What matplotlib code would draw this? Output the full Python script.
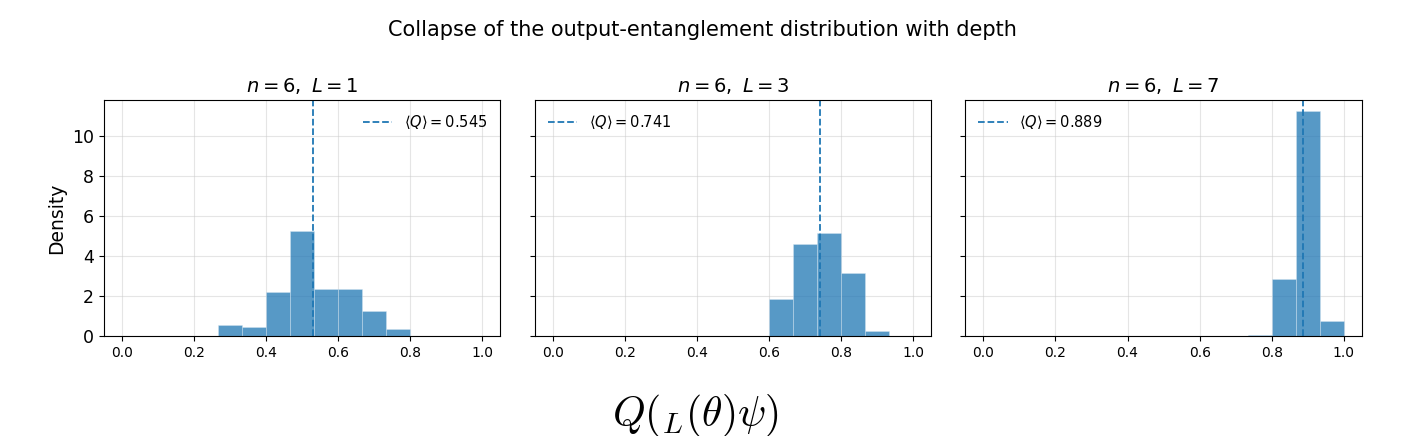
import matplotlib
matplotlib.use('Agg')
import matplotlib.pyplot as plt
import numpy as np

plt.rcParams['mathtext.fontset'] = 'dejavusans'

# ── data (density per bin, 15 bins over [0, 1]) ──
bin_edges = np.linspace(0, 1, 16)
depths = [1, 3, 7]
density_L1 = [0, 0, 0, 0, 0.58, 0.47, 2.22, 5.23, 2.37, 2.37, 1.25, 0.35, 0, 0, 0]
density_L3 = [0, 0, 0, 0, 0, 0, 0, 0, 0, 1.85, 4.60, 5.13, 3.13, 0.25, 0]
density_L7 = [0, 0, 0, 0, 0, 0, 0, 0, 0, 0, 0, 0.08, 2.87, 11.25, 0.75]
mean_line = [0.530, 0.743, 0.888]
mean_label = ['0.545', '0.741', '0.889']
legend_loc = ['upper right', 'upper left', 'upper left']

fig, axes = plt.subplots(1, 3, figsize=(14.04, 4.36), dpi=100, sharey=True)
fig.subplots_adjust(left=0.074, right=0.970, top=0.771, bottom=0.229, wspace=0.086)

for ax, L, dens, m, lab, loc in zip(axes, depths, [density_L1, density_L3, density_L7],
                                    mean_line, mean_label, legend_loc):
    centers = (bin_edges[:-1] + bin_edges[1:]) / 2
    ax.hist(centers, bins=bin_edges, weights=dens, color='C0', alpha=0.75,
            edgecolor='#d6e6f2', linewidth=0.4)
    ax.axvline(m, color='C0', ls='--', lw=1.3, label=r'$\langle Q\rangle = $' + lab)
    ax.set_title(rf'$n=6,\ L={L}$', fontsize=14)
    ax.grid(True, color='#cccccc', alpha=0.5, lw=0.8)
    ax.set_axisbelow(True)
    ax.legend(loc=loc, frameon=False, fontsize=10.5)
    ax.tick_params(axis='x', labelsize=10)
    ax.tick_params(axis='y', labelsize=12.5)
    ax.set_xticks([0, 0.2, 0.4, 0.6, 0.8, 1.0])

axes[0].set_ylim(0, 11.8)
axes[0].set_yticks([0, 2, 4, 6, 8, 10])
axes[0].set_ylabel('Density', fontsize=13.5)

fig.suptitle('Collapse of the output-entanglement distribution with depth',
             fontsize=15, y=0.955)
fig.text(0.495, 0.048, r'$Q({}_L(\theta)\psi)$', ha='center', va='center',
         fontsize=30, math_fontfamily='cm')

plt.savefig('out.png', dpi=100)
plt.close()
